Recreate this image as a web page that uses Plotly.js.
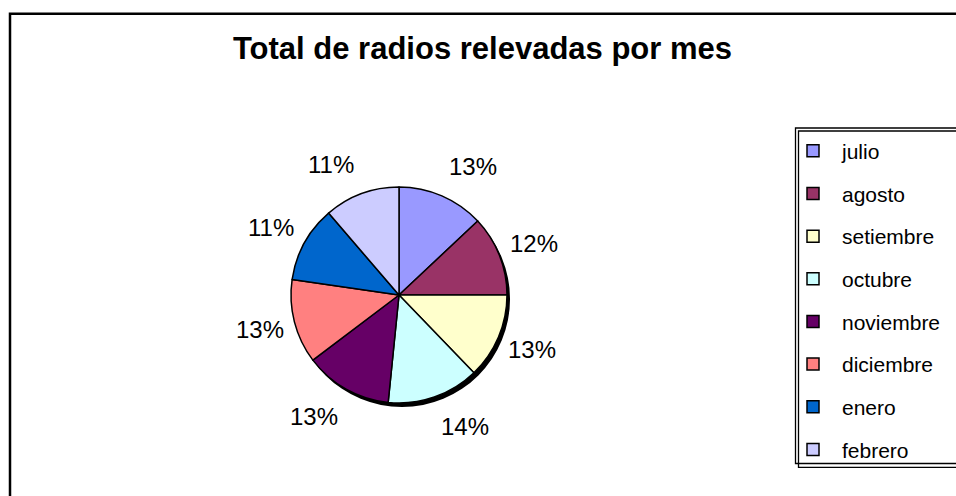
<!DOCTYPE html>
<html><head><meta charset="utf-8">
<script src="https://cdn.plot.ly/plotly-3.0.1.min.js"></script>
<style>html,body{margin:0;padding:0;background:#fff}#chart{width:956px;height:496px}</style>
</head><body><div id="chart"></div>
<script>
const months = ['julio','agosto','setiembre','octubre','noviembre','diciembre','enero','febrero'];
const values = [13.0, 12.0, 12.8, 13.8, 13.1, 12.6, 11.4, 11.3];
const colors = ['#9999FF','#993366','#FFFFCC','#CCFFFF','#660066','#FF8080','#0066CC','#CCCCFF'];
const titleText = 'Total de radios relevadas por mes';

const W = 956, H = 496;
const px = x => x / W, py = y => 1 - y / H;
const cx = 399, cy = 295, R = 108;
const FONT = 'Arial, "Liberation Sans", sans-serif';

const total = values.reduce((a, b) => a + b, 0);

const shadow = {
  type: 'pie', values: [total], labels: [' '], sort: false,
  domain: {x: [px(cx - R + 3), px(cx + R + 3)], y: [py(cy + R + 4), py(cy - R + 4)]},
  marker: {colors: ['#000000'], line: {width: 0}},
  textinfo: 'none', hoverinfo: 'skip', showlegend: false
};

const pie = {
  type: 'pie', values: values,
  labels: months.map(m => '<span style="font-size:21px">' + m + '</span>'),
  sort: false, direction: 'clockwise', rotation: 0,
  domain: {x: [px(cx - R), px(cx + R)], y: [py(cy + R), py(cy - R)]},
  marker: {colors: colors, line: {color: '#000000', width: 1.5}},
  textinfo: 'none', hoverinfo: 'label+percent'
};

// percentage labels placed outside each slice at its mid-angle
let cum = 0;
const labelAnns = values.map(v => {
  const mid = (cum + v / 2) / total * 2 * Math.PI; cum += v;
  const s = Math.sin(mid), c = Math.cos(mid);
  return {
    xref: 'paper', yref: 'paper',
    x: px(cx + 113.5 * s + 29 * Math.sign(s)), y: py(cy - 139.5 * c),
    xanchor: 'center', yanchor: 'middle',
    text: Math.round(v / total * 100) + '%', showarrow: false,
    font: {family: FONT, size: 24, color: '#000000'}
  };
});

const layout = {
  width: W, height: H, margin: {l: 0, r: 0, t: 0, b: 0},
  paper_bgcolor: '#ffffff', plot_bgcolor: '#ffffff',
  title: {text: '<b>' + titleText + '</b>', font: {family: FONT, size: 31, color: '#000000'},
          x: px(482.5), xref: 'paper', xanchor: 'center', y: 1 - 48.5 / H, yref: 'container', yanchor: 'middle'},
  legend: {x: px(784), y: py(124.5), xanchor: 'left', yanchor: 'top', itemwidth: 48,
           font: {family: FONT, size: 30.5, color: '#000000'}, bgcolor: 'rgba(0,0,0,0)', borderwidth: 0},
  annotations: labelAnns,
  shapes: [
    {type: 'rect', xref: 'paper', yref: 'paper', x0: px(10), y0: py(13.7), x1: px(1200), y1: py(800), line: {color: '#000', width: 2.5}},
    {type: 'rect', xref: 'paper', yref: 'paper', x0: px(795.5), y0: py(128), x1: px(1200), y1: py(463.5), line: {color: '#000', width: 1.3}},
    {type: 'rect', xref: 'paper', yref: 'paper', x0: px(798.5), y0: py(131), x1: px(1200), y1: py(467.3), line: {color: '#000', width: 1.3}}
  ],
  showlegend: true
};

Plotly.newPlot('chart', [shadow, pie], layout, {displayModeBar: false, staticPlot: true}).then(gd => {
  gd.querySelectorAll('.legendtext').forEach(el => {
    const y = parseFloat(el.getAttribute('y') || '0');
    el.setAttribute('y', y - 3.7);
  });
});
</script>
</body></html>
